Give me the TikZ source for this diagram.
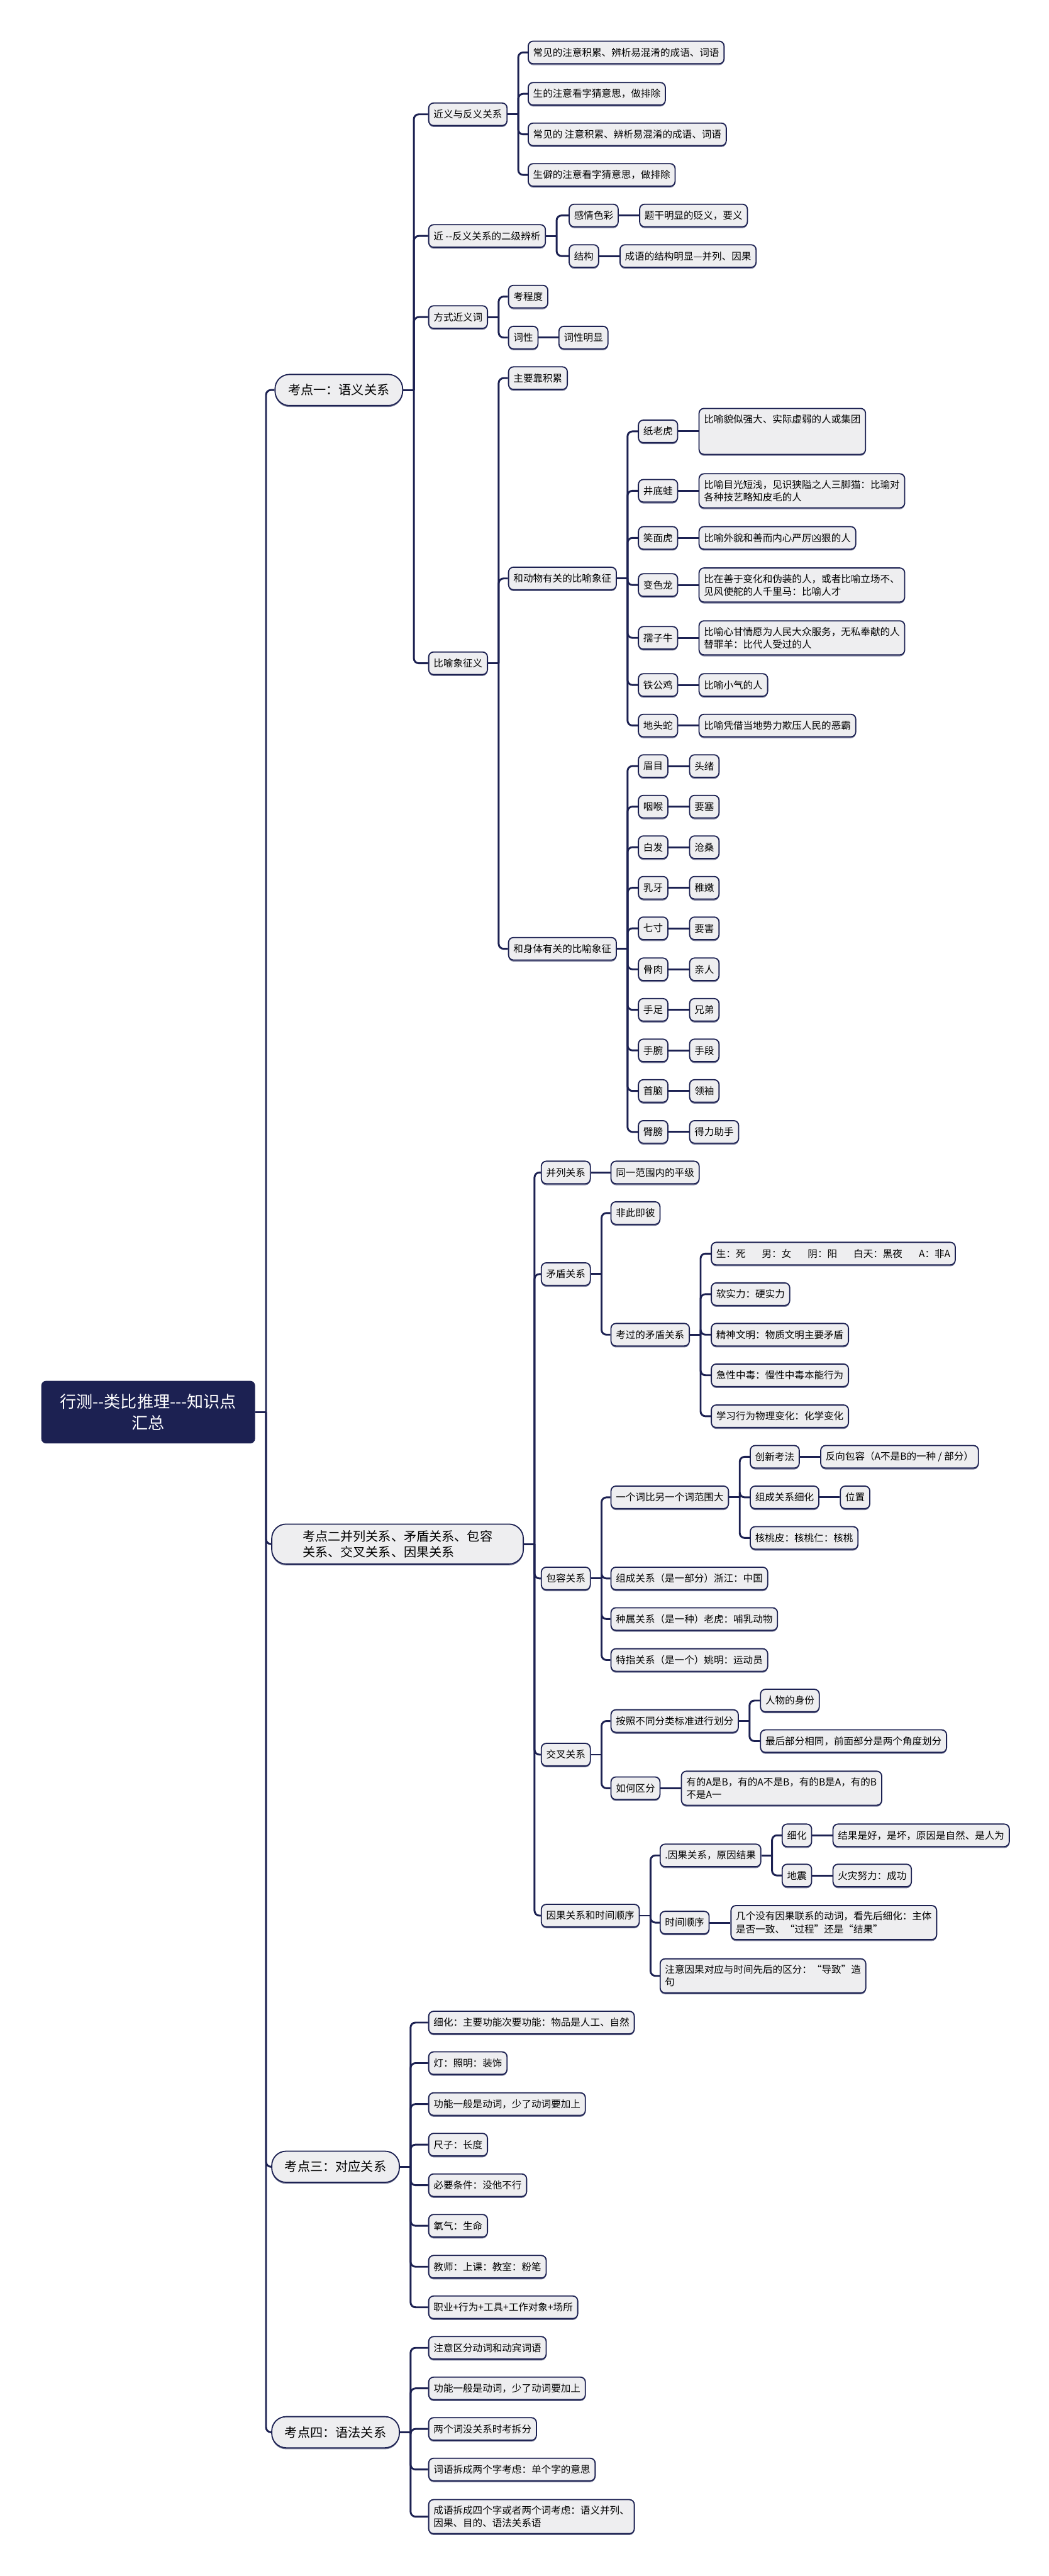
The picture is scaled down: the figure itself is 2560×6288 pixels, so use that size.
\documentclass[tikz,border=0pt]{standalone}
\usepackage{fontspec}
\usepackage{tikz}
\usetikzlibrary{shadows}
\newfontfamily\cjk{Noto Sans CJK SC}
\definecolor{mmNavy}{RGB}{28,33,82}
\definecolor{mmGrey}{RGB}{238,238,240}
\newcommand{\linkto}[2]{%
  \draw[link] (#1.east) -- ++(26,0);
  \draw[link,rounded corners=1.2mm] ([xshift=2.6mm]#1.east) |- (#2.west);}

\begin{document}
\begin{tikzpicture}[x=0.1mm,y=-0.1mm,
  every node/.style={anchor=west,font=\cjk\fontsize{6.8pt}{8.8pt}\selectfont},
  link/.style={draw=mmNavy,line width=0.45mm},
  leaf/.style={draw=mmNavy,fill=mmGrey,line width=0.28mm,rounded corners=1.2mm,
               inner xsep=1.2mm,inner ysep=1.5mm,minimum height=5.5mm,align=left,
               drop shadow={shadow xshift=0mm,shadow yshift=-0.35mm,fill=mmNavy,opacity=0.6}},
  topic/.style={leaf,rounded corners=3.5mm,inner xsep=3.2mm,minimum height=7.6mm,
               align=center,font=\cjk\fontsize{8.8pt}{11pt}\selectfont},
  rootbox/.style={fill=mmNavy,text=white,rounded corners=1.2mm,minimum width=52.2mm,
               minimum height=15.3mm,align=center,font=\cjk\fontsize{11.4pt}{15pt}\selectfont}
]
\useasboundingbox (0,0) rectangle (2560,6288);

% root and the four topics
\node[rootbox] (root) at (100,3447) {行测--类比推理---知识点\\汇总};
\node[topic] (k1) at (670,952) {考点一：语义关系};
\node[topic,align=left,minimum width=61.4mm] (k2) at (662,3769)
  {考点二并列关系、矛盾关系、包容\\关系、交叉关系、因果关系};
\node[topic] (k3) at (662,5289) {考点三：对应关系};
\node[topic] (k4) at (662,5937) {考点四：语法关系};
\foreach \c in {k1,k2,k3,k4}{\linkto{root}{\c}}

% topic one
\node[leaf] (a1) at (1045,279) {近义与反义关系};
\node[leaf] (a11) at (1288,128) {常见的注意积累、辨析易混淆的成语、词语};
\node[leaf] (a12) at (1288,229) {生的注意看字猜意思，做排除};
\node[leaf] (a13) at (1288,328) {常见的 注意积累、辨析易混淆的成语、词语};
\node[leaf] (a14) at (1288,427) {生僻的注意看字猜意思，做排除};
\node[leaf] (a2) at (1045,576) {近 --反义关系的二级辨析};
\node[leaf] (a21) at (1388,526) {感情色彩};
\node[leaf] (a21d) at (1560,526) {题干明显的贬义，要义};
\node[leaf] (a22) at (1388,625) {结构};
\node[leaf] (a22d) at (1512,625) {成语的结构明显—并列、因果};
\node[leaf] (a3) at (1045,774) {方式近义词};
\node[leaf] (a31) at (1240,724) {考程度};
\node[leaf] (a32) at (1240,824) {词性};
\node[leaf] (a32d) at (1363,824) {词性明显};
\node[leaf] (a4) at (1045,1619) {比喻象征义};
\node[leaf] (a41) at (1240,923) {主要靠积累};
\node[leaf] (a42) at (1240,1412) {和动物有关的比喻象征};
\node[leaf] (a43) at (1240,2316) {和身体有关的比喻象征};
\foreach \c in {a1,a2,a3,a4}{\linkto{k1}{\c}}
\foreach \c in {a11,a12,a13,a14}{\linkto{a1}{\c}}
\foreach \c in {a21,a22}{\linkto{a2}{\c}}
\foreach \c in {a31,a32}{\linkto{a3}{\c}}
\foreach \c in {a41,a42,a43}{\linkto{a4}{\c}}
\draw[link] (a21) -- (a21d);
\draw[link] (a22) -- (a22d);
\draw[link] (a32) -- (a32d);

\foreach \n/\yy/\ta/\tb in {
  1/1053/纸老虎/{比喻貌似强大、实际虚弱的人或集团\\~\\~},
  2/1198/井底蛙/{比喻目光短浅，见识狭隘之人三脚猫：比瑜对\\各种技艺略知皮毛的人},
  3/1313/笑面虎/{比喻外貌和善而内心严厉凶狠的人},
  4/1428/变色龙/{比在善于变化和伪装的人，或者比喻立场不、\\见风使舵的人千里马：比喻人才},
  5/1557/孺子牛/{比喻心甘情愿为人民大众服务，无私奉献的人\\替罪羊：比代人受过的人},
  6/1672/铁公鸡/{比喻小气的人},
  7/1771/地头蛇/{比喻凭借当地势力欺压人民的恶霸}}{
  \node[leaf] (b\n) at (1557,\yy) {\ta};
  \node[leaf] (bb\n) at (1705,\yy) {\tb};
  \draw[link] (b\n) -- (bb\n);
  \linkto{a42}{b\n}
}
\foreach \n/\yy/\ta/\tb in {1/1870/眉目/头绪,2/1969/咽喉/要塞,3/2068/白发/沧桑,
  4/2167/乳牙/稚嫩,5/2266/七寸/要害,6/2366/骨肉/亲人,7/2465/手足/兄弟,
  8/2564/手腕/手段,9/2663/首脑/领袖,10/2763/臂膀/得力助手}{
  \node[leaf] (c\n) at (1557,\yy) {\ta};
  \node[leaf] (cc\n) at (1682,\yy) {\tb};
  \draw[link] (c\n) -- (cc\n);
  \linkto{a43}{c\n}
}

% topic two
\node[leaf] (d1) at (1320,2862) {并列关系};
\node[leaf] (d1d) at (1490,2862) {同一范围内的平级};
\node[leaf] (d2) at (1320,3110) {矛盾关系};
\node[leaf] (d21) at (1490,2961) {非此即彼};
\node[leaf] (d22) at (1490,3258) {考过的矛盾关系};
\node[leaf] (m1) at (1735,3060) {生：死\hspace{4mm}男：女\hspace{4mm}阴：阳\hspace{4mm}白天：黑夜\hspace{4mm}A：非A};
\node[leaf] (m2) at (1735,3159) {软实力：硬实力};
\node[leaf] (m3) at (1735,3258) {精神文明：物质文明主要矛盾};
\node[leaf] (m4) at (1735,3357) {急性中毒：慢性中毒本能行为};
\node[leaf] (m5) at (1735,3457) {学习行为物理变化：化学变化};
\node[leaf] (d3) at (1320,3853) {包容关系};
\node[leaf] (d31) at (1490,3655) {一个词比另一个词范围大};
\node[leaf] (n1) at (1830,3556) {创新考法};
\node[leaf] (n1d) at (2002,3556) {反向包容（A不是B的一种 / 部分）};
\node[leaf] (n2) at (1830,3655) {组成关系细化};
\node[leaf] (n2d) at (2050,3655) {位置};
\node[leaf] (n3) at (1830,3754) {核桃皮：核桃仁：核桃};
\node[leaf] (d32) at (1490,3853) {组成关系（是一部分）浙江：中国};
\node[leaf] (d33) at (1490,3952) {种属关系（是一种）老虎：哺乳动物};
\node[leaf] (d34) at (1490,4052) {特指关系（是一个）姚明：运动员};
\node[leaf] (d4) at (1320,4283) {交叉关系};
\node[leaf] (d41) at (1490,4201) {按照不同分类标准进行划分};
\node[leaf] (p1) at (1855,4151) {人物的身份};
\node[leaf] (p2) at (1855,4250) {最后部分相同，前面部分是两个角度划分};
\node[leaf] (d42) at (1490,4365) {如何区分};
\node[leaf] (d42d) at (1662,4365) {有的A是B，有的A不是B，有的B是A，有的B\\不是A一};
\node[leaf] (d5) at (1320,4676) {因果关系和时间顺序};
\node[leaf] (d51) at (1610,4529) {.因果关系，原因结果};
\node[leaf] (q1) at (1908,4480) {细化};
\node[leaf] (q1d) at (2032,4480) {结果是好，是坏，原因是自然、是人为};
\node[leaf] (q2) at (1908,4578) {地震};
\node[leaf] (q2d) at (2032,4578) {火灾努力：成功};
\node[leaf] (d52) at (1610,4693) {时间顺序};
\node[leaf] (d52d) at (1783,4693) {几个没有因果联系的动词，看先后细化：主体\\是否一致、“过程”还是“结果”};
\node[leaf] (d53) at (1610,4823) {注意因果对应与时间先后的区分：“导致”造\\句};
\foreach \c in {d1,d2,d3,d4,d5}{\linkto{k2}{\c}}
\foreach \c in {d21,d22}{\linkto{d2}{\c}}
\foreach \c in {m1,m2,m3,m4,m5}{\linkto{d22}{\c}}
\foreach \c in {d31,d32,d33,d34}{\linkto{d3}{\c}}
\foreach \c in {n1,n2,n3}{\linkto{d31}{\c}}
\foreach \c in {d41,d42}{\linkto{d4}{\c}}
\foreach \c in {p1,p2}{\linkto{d41}{\c}}
\foreach \c in {d51,d52,d53}{\linkto{d5}{\c}}
\foreach \c in {q1,q2}{\linkto{d51}{\c}}
\draw[link] (d1) -- (d1d);
\draw[link] (n1) -- (n1d);
\draw[link] (n2) -- (n2d);
\draw[link] (d42) -- (d42d);
\draw[link] (q1) -- (q1d);
\draw[link] (q2) -- (q2d);
\draw[link] (d52) -- (d52d);

% topics three and four
\foreach \n/\yy/\ta in {1/4937/细化：主要功能次要功能：物品是人工、自然,2/5036/灯：照明：装饰,
  3/5136/功能一般是动词，少了动词要加上,4/5235/尺子：长度,5/5334/必要条件：没他不行,
  6/5433/氧气：生命,7/5533/教师：上课：教室：粉笔,8/5632/职业+行为+工具+工作对象+场所}{
  \node[leaf] (t\n) at (1045,\yy) {\ta};
  \linkto{k3}{t\n}
}
\foreach \n/\yy/\ta in {1/5731/注意区分动词和动宾词语,2/5830/功能一般是动词，少了动词要加上,
  3/5929/两个词没关系时考拆分,4/6028/词语拆成两个字考虑：单个字的意思,
  5/6143/{成语拆成四个字或者两个词考虑：语义并列、\\因果、目的、语法关系语}}{
  \node[leaf] (g\n) at (1045,\yy) {\ta};
  \linkto{k4}{g\n}
}
\end{tikzpicture}
\end{document}
